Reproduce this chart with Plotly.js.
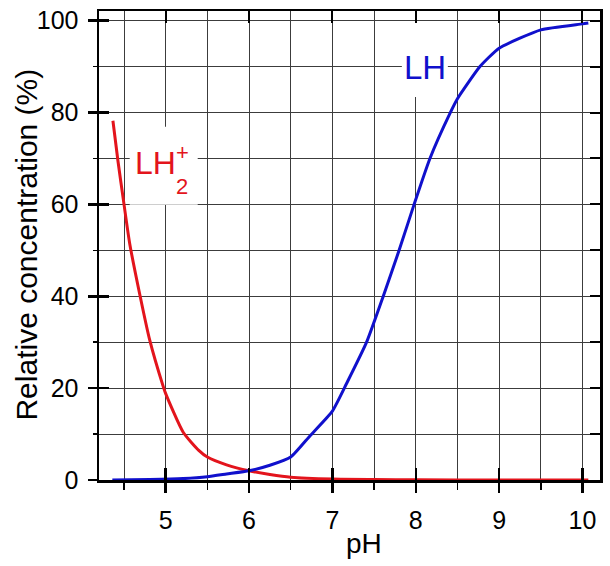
<!DOCTYPE html>
<html>
<head>
<meta charset="utf-8">
<script src="https://cdn.plot.ly/plotly-3.0.1.min.js"></script>
<style>
html,body{margin:0;padding:0;background:#fff;}
#chart{width:610px;height:566px;}
</style>
</head>
<body>
<div id="chart"></div>
<script>
// LH2+ (red) curve
const phLH2 = [4.367, 4.427, 4.5, 4.568, 4.688, 4.808, 4.968, 5.0, 5.21, 5.4, 5.5, 5.73, 6.0, 6.25, 6.5, 7.0, 7.5, 8.0, 9.0, 10.07];
const valLH2 = [78.2, 69.5, 60.0, 51.5, 40.5, 30.5, 20.5, 18.8, 10.4, 6.4, 5.0, 3.3, 2.0, 1.2, 0.6, 0.2, 0.1, 0.05, 0, 0];
// LH (blue) curve
const phLH = [4.36, 4.81, 5.21, 5.5, 5.73, 6.0, 6.25, 6.5, 6.73, 7.0, 7.17, 7.41, 7.61, 7.80, 7.98, 8.17, 8.41, 8.5, 8.77, 9.0, 9.5, 10.0, 10.07];
const valLH = [0.0, 0.1, 0.3, 0.7, 1.3, 2.0, 3.2, 5.0, 9.6, 15.0, 21, 30, 40, 50, 60, 70.0, 79.8, 83.0, 90, 94, 98, 99.3, 99.5];
// ticks
const xTickVals = [5, 6, 7, 8, 9, 10];
const xTickText = ['5', '6', '7', '8', '9', '10'];
const yTickVals = [0, 20, 40, 60, 80, 100];
const yTickText = ['0', '20', '40', '60', '80', '100'];

const RED = '#e3141c';
const BLUE = '#1010cc';
const GRID = '#3c3c3c';
const XR = [4.2, 10.21];
const YR = [0, 102.1];
const SANS = '"Liberation Sans", Arial, sans-serif';

const traces = [
  {x: phLH2, y: valLH2, type: 'scatter', mode: 'lines', line: {color: RED, width: 3, shape: 'spline', smoothing: 0.6}, hoverinfo: 'skip', showlegend: false},
  {x: phLH, y: valLH, type: 'scatter', mode: 'lines', line: {color: BLUE, width: 3, shape: 'spline', smoothing: 0.5}, hoverinfo: 'skip', showlegend: false},
  {x: [], y: [], xaxis: 'x2', yaxis: 'y2', type: 'scatter', showlegend: false},
  {x: [], y: [], xaxis: 'x3', yaxis: 'y3', type: 'scatter', showlegend: false}
];

const layout = {
  width: 610, height: 566,
  margin: {l: 99, r: 10, t: 11, b: 86},
  paper_bgcolor: '#fff', plot_bgcolor: '#fff',
  showlegend: false,
  xaxis: {
    range: XR, tickmode: 'array', tickvals: xTickVals, ticktext: xTickText,
    ticks: 'outside', ticklen: 10, tickwidth: 2.5, tickcolor: '#000',
    showgrid: true, gridcolor: GRID, gridwidth: 1, zeroline: false,
    showline: true, linecolor: '#000', linewidth: 2.5,
    tickfont: {family: SANS, size: 25, color: '#000'},
    ticklabelstandoff: 6,
    minor: {tickmode: 'linear', tick0: 0, dtick: 0.5, ticks: 'outside', ticklen: 7, tickwidth: 1.5, tickcolor: '#000', showgrid: true, gridcolor: GRID, gridwidth: 1},
    layer: 'below traces', fixedrange: true
  },
  yaxis: {
    range: YR, tickmode: 'array', tickvals: yTickVals, ticktext: yTickText,
    ticks: 'outside', ticklen: 9, tickwidth: 2.5, tickcolor: '#000',
    showgrid: true, gridcolor: GRID, gridwidth: 1, zeroline: false,
    showline: true, linecolor: '#000', linewidth: 2.5,
    tickfont: {family: SANS, size: 25, color: '#000'},
    ticklabelstandoff: 4,
    minor: {tickmode: 'linear', tick0: 0, dtick: 10, ticks: 'outside', ticklen: 4, tickwidth: 1.5, tickcolor: '#000', showgrid: true, gridcolor: GRID, gridwidth: 1},
    layer: 'below traces', fixedrange: true
  },
  xaxis2: {
    range: XR, overlaying: 'x', side: 'top', anchor: 'y2',
    tickmode: 'linear', tick0: 0, dtick: 1, ticks: 'inside', ticklen: 12, tickwidth: 2, tickcolor: '#000',
    showticklabels: false, showgrid: false, zeroline: false,
    showline: true, linecolor: '#000', linewidth: 2.5, fixedrange: true
  },
  yaxis2: {
    range: YR, overlaying: 'y', side: 'right', anchor: 'x2',
    tickmode: 'linear', tick0: 0, dtick: 10, ticks: 'inside', ticklen: 10, tickwidth: 2, tickcolor: '#000',
    showticklabels: false, showgrid: false, zeroline: false,
    showline: true, linecolor: '#000', linewidth: 2.5, fixedrange: true
  },
  xaxis3: {
    range: XR, overlaying: 'x', side: 'bottom', anchor: 'y3',
    tickmode: 'array', tickvals: xTickVals, ticks: 'inside', ticklen: 12, tickwidth: 2.5, tickcolor: '#000',
    showticklabels: false, showgrid: false, zeroline: false, showline: false, fixedrange: true
  },
  yaxis3: {
    range: YR, overlaying: 'y', side: 'left', anchor: 'x3',
    tickmode: 'array', tickvals: yTickVals, ticks: 'inside', ticklen: 10, tickwidth: 2.5, tickcolor: '#000',
    showticklabels: false, showgrid: false, zeroline: false, showline: false, fixedrange: true
  },
  shapes: [
    {type: 'rect', xref: 'x', yref: 'y', x0: 7.833, x1: 8.385, y0: 83.4, y1: 99.5, fillcolor: '#fff', line: {width: 0}, layer: 'between'},
    {type: 'rect', xref: 'x', yref: 'y', x0: 4.568, x1: 5.384, y0: 59.9, y1: 76.9, fillcolor: '#fff', line: {width: 0}, layer: 'between'}
  ],
  annotations: [
    {xref: 'paper', yref: 'paper', x: 0, xshift: -72, y: 0.502, xanchor: 'center', yanchor: 'middle', textangle: -90, showarrow: false,
     text: 'Relative concentration (%)', font: {family: SANS, size: 30, color: '#000'}},
    {xref: 'x', yref: 'paper', x: 7.38, y: 0, yshift: -63, yanchor: 'middle', xanchor: 'center', showarrow: false,
     text: 'pH', font: {family: SANS, size: 28, color: '#000'}},
    {xref: 'x', yref: 'y', x: 8.11, y: 89.7, xanchor: 'center', yanchor: 'middle', showarrow: false,
     text: 'LH', font: {family: SANS, size: 33, color: BLUE}},
    {xref: 'x', yref: 'y', x: 4.88, y: 69.1, xanchor: 'center', yanchor: 'middle', showarrow: false,
     text: 'LH', font: {family: SANS, size: 32, color: RED}},
    {xref: 'x', yref: 'y', x: 5.2, y: 64.0, xanchor: 'center', yanchor: 'middle', showarrow: false,
     text: '2', font: {family: SANS, size: 22, color: RED}},
    {xref: 'x', yref: 'y', x: 5.2, y: 71.4, xanchor: 'center', yanchor: 'middle', showarrow: false,
     text: '+', font: {family: SANS, size: 22, color: RED}}
  ]
};

Plotly.newPlot('chart', traces, layout, {displayModeBar: false, staticPlot: true});
</script>
</body>
</html>
